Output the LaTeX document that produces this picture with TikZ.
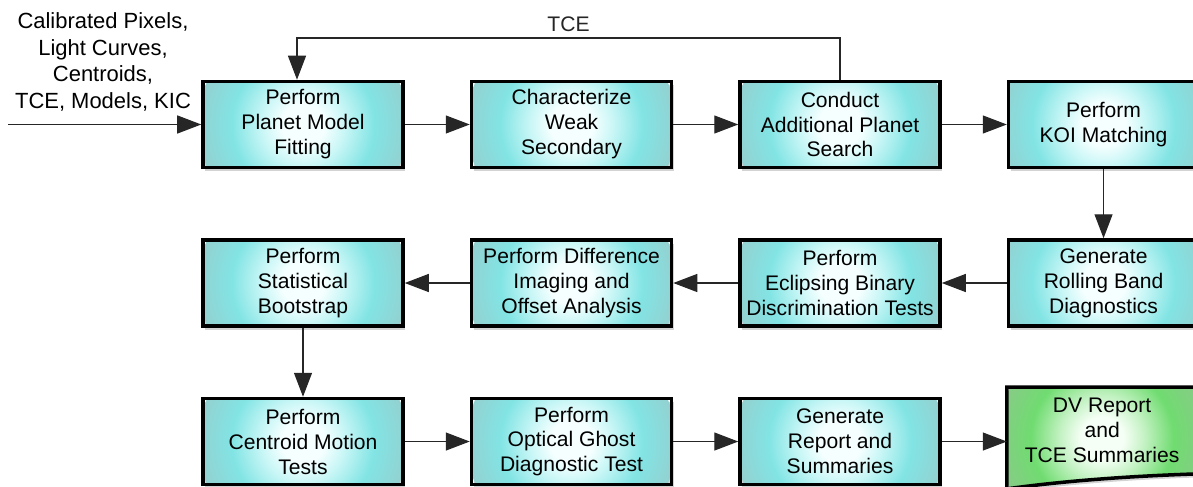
\documentclass[tikz,border=0pt]{standalone}
\usepackage{fontspec}
\setmainfont{Liberation Sans}
\usepackage{tikz}
\usetikzlibrary{positioning,arrows.meta,shadows,backgrounds}
\definecolor{glowcenter}{RGB}{246,255,255}
\definecolor{glowinner}{RGB}{200,246,246}
\definecolor{glowmid}{RGB}{130,228,228}
\definecolor{glowouter}{RGB}{152,204,204}
\definecolor{glowedge}{RGB}{172,180,180}
\definecolor{leafcenter}{RGB}{246,255,246}
\definecolor{leafinner}{RGB}{196,242,196}
\definecolor{leafmid}{RGB}{112,220,112}
\definecolor{leafouter}{RGB}{140,200,140}
\definecolor{leafedge}{RGB}{165,188,165}
\pgfdeclareradialshading{cyanglow}{\pgfpoint{0bp}{0bp}}{color(0bp)=(glowcenter); color(5bp)=(glowcenter); color(10bp)=(glowinner); color(17bp)=(glowmid); color(27bp)=(glowouter); color(34bp)=(glowedge); color(50bp)=(glowedge)}
\pgfdeclareradialshading{greenglow}{\pgfpoint{0bp}{0bp}}{color(0bp)=(leafcenter); color(5bp)=(leafcenter); color(10bp)=(leafinner); color(17bp)=(leafmid); color(27bp)=(leafouter); color(34bp)=(leafedge); color(50bp)=(leafedge)}
\newcommand{\boxfont}{\fontsize{12}{14.2}\selectfont}
\newcommand{\infont}{\fontsize{12.5}{15.2}\selectfont}
\tikzstyle{process} = [rectangle, minimum width=4cm, minimum height=1.72cm, inner sep=0pt, draw=black, line width=2pt, align=center, font=\boxfont, drop shadow={shadow xshift=0.04cm, shadow yshift=-0.07cm, opacity=0.35}, path picture={\shade[shading=cyanglow] (path picture bounding box.center) circle (2.1cm);}]
\tikzstyle{report} = [rectangle, minimum width=3.8cm, minimum height=1.72cm, inner sep=0pt, align=center, font=\boxfont]
\tikzstyle{reportshape} = [draw=black, line width=2pt, drop shadow={shadow xshift=0.04cm, shadow yshift=-0.07cm, opacity=0.35}, path picture={\shade[shading=greenglow] (path picture bounding box.center) circle (2.1cm);}]
\tikzstyle{intext} = [align=center, inner sep=0pt, font=\infont]
\tikzstyle{arrow} = [line width=0.7pt, black!85, -{Triangle[length=0.48cm, width=0.36cm]}]

\begin{document}
\begin{tikzpicture}
\useasboundingbox (0,0) rectangle (23.86,-9.74);
\node (fit) [process] at (6.06,-2.49) {Perform\\Planet Model\\Fitting};
\node (weak) [process, right=1.3cm of fit] {Characterize\\Weak\\Secondary};
\node (search) [process, right=1.3cm of weak] {Conduct\\Additional Planet\\Search};
\node (koi) [process, minimum width=3.8cm, right=1.3cm of search] {Perform\\KOI Matching};
\node (band) [process, minimum width=3.8cm, below=1.38cm of koi] {Generate\\Rolling Band\\Diagnostics};
\node (eb) [process, left=1.3cm of band] {Perform\\Eclipsing Binary\\Discrimination Tests};
\node (diff) [process, left=1.3cm of eb] {Perform Difference\\Imaging and\\Offset Analysis};
\node (boot) [process, left=1.3cm of diff] {Perform\\Statistical\\Bootstrap};
\node (cent) [process, below=1.38cm of boot] {Perform\\Centroid Motion\\Tests};
\node (ghost) [process, right=1.3cm of cent] {Perform\\Optical Ghost\\Diagnostic Test};
\node (summ) [process, right=1.3cm of ghost] {Generate\\Report and\\Summaries};
\node (dv) [report, right=1.3cm of summ, yshift=0.22cm] {DV Report\\and\\TCE Summaries};
\node (inputs) [intext] at (2.06,-1.24) {Calibrated Pixels,\\Light Curves,\\Centroids,\\TCE, Models, KIC};
\coordinate (start) at (0.16,-2.49);
\coordinate (loop) at (0,-0.76);
\begin{pgfonlayer}{background}
\path[reportshape] (dv.north west) -- (dv.north east) -- (dv.south east)
  .. controls ([xshift=-1.2cm, yshift=-0.04cm]dv.south east) and ([xshift=1.3cm, yshift=-0.12cm]dv.south west) .. ([yshift=-0.3cm]dv.south west) -- cycle;
\end{pgfonlayer}
\draw[arrow] (start) -- (fit.west);
\draw[arrow] (fit) -- (weak);
\draw[arrow] (weak) -- (search);
\draw[arrow] (search) -- (koi);
\draw[arrow] (search.north) |- node[pos=0.75, above] {\boxfont TCE} ([xshift=-0.12cm]loop -| fit.north) -- ([xshift=-0.12cm]fit.north);
\draw[arrow] (koi) -- (band);
\draw[arrow] (band) -- (eb);
\draw[arrow] (eb) -- (diff);
\draw[arrow] (diff) -- (boot);
\draw[arrow] (boot) -- (cent);
\draw[arrow] (cent) -- (ghost);
\draw[arrow] (ghost) -- (summ);
\draw[arrow] (summ.east) -- (summ.east -| dv.west);
\end{tikzpicture}
\end{document}
